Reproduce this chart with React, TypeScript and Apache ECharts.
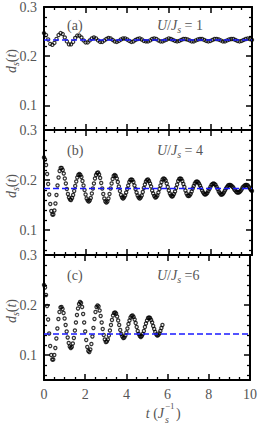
import React, { useEffect, useRef } from 'react';
import * as echarts from 'echarts';

// ---- data ----
const dtA = 0.1; // U/Js = 1
const valuesA = [
  0.247, 0.243, 0.234, 0.225, 0.223, 0.227, 0.235, 0.243, 0.247, 0.245,
  0.238, 0.230, 0.224, 0.224, 0.229, 0.237, 0.242, 0.242, 0.238, 0.232,
  0.228, 0.228, 0.232, 0.236, 0.238, 0.236, 0.232, 0.229, 0.229, 0.232,
  0.235, 0.237, 0.236, 0.233, 0.230, 0.229, 0.231, 0.234, 0.236, 0.236,
  0.234, 0.231, 0.229, 0.230, 0.233, 0.235, 0.236, 0.234, 0.231, 0.230,
  0.230, 0.232, 0.235, 0.236, 0.235, 0.232, 0.230, 0.230, 0.232, 0.234,
  0.236, 0.235, 0.233, 0.231, 0.230, 0.231, 0.233, 0.235, 0.235, 0.234,
  0.232, 0.230, 0.230, 0.232, 0.234, 0.235, 0.235, 0.233, 0.231, 0.230,
  0.231, 0.233, 0.235, 0.235, 0.234, 0.232, 0.230, 0.230, 0.232, 0.234,
  0.235, 0.235, 0.233, 0.231, 0.230, 0.231, 0.233, 0.235, 0.236, 0.235,
  0.233,
];

const dtB = 0.05; // U/Js = 4
const valuesB = [
  0.245, 0.241, 0.230, 0.212, 0.192, 0.171, 0.152, 0.138, 0.131, 0.131, 0.139, 0.153, 0.170, 0.189, 0.205, 0.218, 0.224, 0.224, 0.220, 0.213,
  0.203, 0.193, 0.182, 0.172, 0.165, 0.161, 0.160, 0.164, 0.170, 0.178, 0.188, 0.197, 0.205, 0.210, 0.212, 0.210, 0.206, 0.198, 0.189, 0.180,
  0.171, 0.163, 0.159, 0.157, 0.159, 0.164, 0.173, 0.183, 0.193, 0.203, 0.210, 0.214, 0.215, 0.211, 0.204, 0.194, 0.183, 0.172, 0.163, 0.157,
  0.155, 0.157, 0.163, 0.172, 0.183, 0.193, 0.202, 0.208, 0.210, 0.208, 0.203, 0.196, 0.187, 0.178, 0.170, 0.165, 0.163, 0.165, 0.169, 0.175,
  0.182, 0.189, 0.196, 0.200, 0.201, 0.200, 0.196, 0.189, 0.182, 0.175, 0.169, 0.165, 0.163, 0.165, 0.169, 0.176, 0.184, 0.191, 0.197, 0.200,
  0.201, 0.198, 0.193, 0.187, 0.179, 0.173, 0.168, 0.165, 0.166, 0.169, 0.175, 0.182, 0.189, 0.196, 0.201, 0.203, 0.202, 0.199, 0.193, 0.186,
  0.179, 0.173, 0.169, 0.167, 0.168, 0.172, 0.177, 0.184, 0.191, 0.198, 0.202, 0.203, 0.202, 0.198, 0.192, 0.186, 0.179, 0.173, 0.169, 0.168,
  0.169, 0.172, 0.177, 0.183, 0.188, 0.193, 0.196, 0.197, 0.196, 0.193, 0.189, 0.184, 0.179, 0.175, 0.172, 0.171, 0.172, 0.174, 0.178, 0.182,
  0.186, 0.190, 0.192, 0.193, 0.192, 0.190, 0.186, 0.182, 0.177, 0.174, 0.171, 0.171, 0.172, 0.175, 0.179, 0.183, 0.186, 0.189, 0.190, 0.190,
  0.189, 0.187, 0.185, 0.181, 0.179, 0.176, 0.175, 0.175, 0.176, 0.178, 0.181, 0.185, 0.187, 0.189, 0.190, 0.190, 0.189, 0.186, 0.183, 0.180,
  0.178,
];

const dtC = 0.05; // U/Js = 6
const valuesC = [
  0.240, 0.235, 0.220, 0.198, 0.171, 0.143, 0.118, 0.100, 0.091, 0.091, 0.100, 0.114, 0.133, 0.153, 0.172, 0.186, 0.195, 0.196, 0.192, 0.184,
  0.173, 0.160, 0.147, 0.135, 0.124, 0.117, 0.114, 0.116, 0.123, 0.134, 0.149, 0.165, 0.180, 0.193, 0.202, 0.206, 0.204, 0.196, 0.182, 0.165,
  0.147, 0.130, 0.116, 0.108, 0.106, 0.111, 0.122, 0.137, 0.154, 0.172, 0.186, 0.196, 0.199, 0.197, 0.189, 0.178, 0.165, 0.152, 0.140, 0.131,
  0.126, 0.127, 0.131, 0.139, 0.149, 0.160, 0.170, 0.179, 0.184, 0.185, 0.183, 0.177, 0.169, 0.160, 0.150, 0.142, 0.137, 0.134, 0.135, 0.139,
  0.145, 0.153, 0.162, 0.169, 0.175, 0.178, 0.179, 0.176, 0.171, 0.164, 0.156, 0.148, 0.142, 0.138, 0.136, 0.138, 0.142, 0.148, 0.156, 0.163,
  0.169, 0.174, 0.175, 0.174, 0.170, 0.165, 0.158, 0.152, 0.146, 0.141, 0.139, 0.140, 0.143, 0.148, 0.154, 0.160,
];

const meanLevels = [0.233, 0.183, 0.142];
const panelTags = ['(a)', '(b)', '(c)'];
const uLabels = ['= 1', '= 4', '=6'];
const xRange = [0, 10];
const yRange = [0.05, 0.3];
const xMajor = [0, 2, 4, 6, 8, 10];
const xMinor = [0.5, 1, 1.5, 2.5, 3, 3.5, 4.5, 5, 5.5, 6.5, 7, 7.5, 8.5, 9, 9.5];
const yMajor = [0.1, 0.2, 0.3];
const yMinor = [0.06, 0.08, 0.12, 0.14, 0.16, 0.18, 0.22, 0.24, 0.26, 0.28];

// ---- style ----
const FONT = 'Liberation Serif';
const TXT = '#555';
const BLUE = '#1a1aff';
const GRID_LEFT = 44;
const GRID_WIDTH = 208;
const GRID_H = 125;
const gridTops = [5, 130, 255];

const richStyles = {
  i: { fontFamily: FONT, fontStyle: 'italic', fontSize: 14, lineHeight: 18, verticalAlign: 'middle', fill: TXT, color: TXT },
  n: { fontFamily: FONT, fontSize: 14, lineHeight: 18, verticalAlign: 'middle', fill: TXT, color: TXT },
  sub: { fontFamily: FONT, fontStyle: 'italic', fontSize: 10, lineHeight: 11, verticalAlign: 'bottom', fill: TXT, color: TXT },
};

function toPairs(vals: number[], dt: number) {
  return vals.map((v, k) => [Number((k * dt).toFixed(3)), v]);
}

export default function App() {
  const ref = useRef<HTMLDivElement>(null);
  useEffect(() => {
    if (!ref.current) return;
    const chart = echarts.init(ref.current, undefined, { renderer: 'svg' });

    const grids: any[] = [];
    const xAxes: any[] = [];
    const yAxes: any[] = [];
    const lineStyleAxis = { color: '#000', width: 2 };
    gridTops.forEach((top, i) => {
      grids.push({ left: GRID_LEFT, top, width: GRID_WIDTH, height: GRID_H, containLabel: false });
      const xb = { gridIndex: i, type: 'value', min: xRange[0], max: xRange[1], splitLine: { show: false } };
      const yb = { gridIndex: i, type: 'value', min: yRange[0], max: yRange[1], splitLine: { show: false } };
      ['bottom', 'top'].forEach((pos) => {
        xAxes.push({
          ...xb, position: pos,
          axisLine: { show: true, onZero: false, lineStyle: lineStyleAxis },
          axisTick: { show: true, inside: true, length: 6, customValues: xMajor, lineStyle: { color: '#000', width: 1.5 } },
          axisLabel: {
            show: pos === 'bottom' && i === 2, customValues: xMajor, margin: 7,
            fontFamily: FONT, fontSize: 14, color: TXT, formatter: (v: number) => String(v),
          },
        });
        xAxes.push({
          ...xb, position: pos,
          axisLine: { show: false, onZero: false },
          axisTick: { show: true, inside: true, length: 3, customValues: xMinor, lineStyle: { color: '#000', width: 1.3 } },
          axisLabel: { show: false },
        });
      });
      ['left', 'right'].forEach((pos) => {
        yAxes.push({
          ...yb, position: pos,
          axisLine: { show: true, onZero: false, lineStyle: lineStyleAxis },
          axisTick: { show: true, inside: true, length: 6, customValues: yMajor, lineStyle: { color: '#000', width: 1.5 } },
          axisLabel: {
            show: pos === 'left', customValues: yMajor, margin: 7,
            fontFamily: FONT, fontSize: 14, color: TXT, formatter: (v: number) => v.toFixed(1),
          },
        });
        yAxes.push({
          ...yb, position: pos,
          axisLine: { show: false, onZero: false },
          axisTick: { show: true, inside: true, length: 3, customValues: yMinor, lineStyle: { color: '#000', width: 1.3 } },
          axisLabel: { show: false },
        });
      });
    });

    const datasets = [toPairs(valuesA, dtA), toPairs(valuesB, dtB), toPairs(valuesC, dtC)];
    const series: any[] = [];
    datasets.forEach((d, i) => {
      series.push({
        type: 'scatter', xAxisIndex: 4 * i, yAxisIndex: 4 * i, data: d,
        symbol: 'circle', symbolSize: 3.2, silent: true, z: 2,
        itemStyle: { color: 'rgba(0,0,0,0)', borderColor: '#000', borderWidth: 1.2 },
      });
      series.push({
        type: 'line', xAxisIndex: 4 * i, yAxisIndex: 4 * i,
        data: [[xRange[0], meanLevels[i]], [xRange[1], meanLevels[i]]],
        symbol: 'none', silent: true, z: 3,
        lineStyle: { color: BLUE, width: 1.5, type: [6, 3] },
      });
    });

    const graphics: any[] = [];
    gridTops.forEach((top, i) => {
      graphics.push({
        type: 'text', x: 67, y: top + 20,
        style: { text: panelTags[i], font: `14px ${FONT}`, fill: TXT, align: 'left', verticalAlign: 'middle' },
      });
      graphics.push({
        type: 'text', x: 157, y: top + 20,
        style: {
          text: `{i|U}{n|/}{i|J}{sub|s}{n| ${uLabels[i]}}`,
          rich: richStyles, align: 'left', verticalAlign: 'middle',
        },
      });
      graphics.push({
        type: 'text', x: 11, y: top + 56, rotation: Math.PI / 2,
        style: {
          text: '{i|d}{sub|s}{n|(}{i|t}{n|)}',
          rich: richStyles, align: 'center', verticalAlign: 'middle',
        },
      });
    });
    // x axis title: t (J_s^{-1})
    graphics.push({
      type: 'text', x: 164, y: 413,
      style: { text: '{i|t}{n| (}{i|J}', rich: richStyles, align: 'right', verticalAlign: 'middle' },
    });
    graphics.push({
      type: 'text', x: 165, y: 406,
      style: { text: '−1', font: `9px ${FONT}`, fill: TXT, align: 'left', verticalAlign: 'middle' },
    });
    graphics.push({
      type: 'text', x: 165, y: 419,
      style: { text: 's', font: `italic 10px ${FONT}`, fill: TXT, align: 'left', verticalAlign: 'middle' },
    });
    graphics.push({
      type: 'text', x: 176, y: 413,
      style: { text: ')', font: `14px ${FONT}`, fill: TXT, align: 'left', verticalAlign: 'middle' },
    });

    chart.setOption({
      animation: false,
      backgroundColor: '#fff',
      grid: grids,
      xAxis: xAxes,
      yAxis: yAxes,
      series,
      graphic: graphics,
    });
    return () => chart.dispose();
  }, []);
  return <div ref={ref} style={{ position: 'absolute', left: 0, top: 0, width: 260, height: 425 }} />;
}
